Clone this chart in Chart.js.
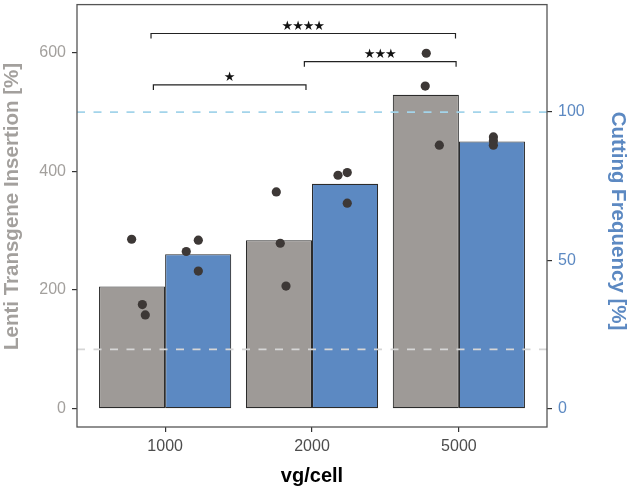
<!DOCTYPE html>
<html><head><meta charset="utf-8">
<script src="https://cdn.jsdelivr.net/npm/chart.js@4/dist/chart.umd.min.js"></script>
<style>html,body{margin:0;padding:0;background:#fff}</style>
</head><body>
<canvas id="c" width="630" height="492"></canvas>
<script>
// ---- data ----
const categories = ['1000', '2000', '5000'];
const categoryPos = [1, 2, 3];
const lentiMean = [206, 284, 529];          // Lenti Transgene Insertion [%]
const cuttingMean = [52.1, 75.8, 90.1];     // Cutting Frequency [%]
const lentiPointX = [0.772, 0.845, 0.865, 1.757, 1.784, 1.823, 2.771, 2.778, 2.867];
const lentiPointY = [285.6, 175.5, 158.2, 365.4, 278.9, 206.8, 543.7, 599, 444.2];
const cuttingPointX = [1.144, 1.226, 1.226, 2.177, 2.240, 2.240, 3.235, 3.235, 3.235];
const cuttingPointY = [53.0, 56.8, 46.4, 78.7, 79.6, 69.3, 91.6, 90.3, 88.8];
const lentiRef = 100;      // left axis reference
const cuttingRef = 100;    // right axis reference
const leftTicks = [0, 200, 400, 600];
const rightTicks = [0, 50, 100];
const sigLabels = ['****', '***', '*'];
const sigFrom = [0.904, 1.948, 0.920];
const sigTo = [2.977, 2.981, 1.959];
const sigY = [632.3, 584.9, 545.8];

// ---- style ----
const FONT = '"Liberation Sans", Arial, Helvetica, sans-serif';
const GREY = '#9e9a97';
const BLUE = '#5c89c2';
const GREY_TXT = '#a3a09d';
const DOT = '#3d3836';
const TIP = 8.5;
const X_MIN = 0.4, X_MAX = 3.6;

const pts = (xs, ys) => xs.map((x, i) => ({x, y: ys[i]}));
const bracket = i => [
  {x: sigFrom[i], y: sigY[i] - TIP}, {x: sigFrom[i], y: sigY[i]},
  {x: sigTo[i], y: sigY[i]}, {x: sigTo[i], y: sigY[i] - TIP}
];

const datasets = [
  {type: 'bar', label: 'Lenti', data: pts(categoryPos, lentiMean), yAxisID: 'y',
   backgroundColor: GREY, borderColor: '#2b2b2b', borderWidth: 1.1, borderSkipped: false,
   categoryPercentage: 0.9, barPercentage: 1.0, order: 5},
  {type: 'bar', label: 'Cutting', data: pts(categoryPos, cuttingMean), yAxisID: 'y2',
   backgroundColor: BLUE, borderColor: '#2b2b2b', borderWidth: 1.1, borderSkipped: false,
   categoryPercentage: 0.9, barPercentage: 1.0, order: 5},
  {type: 'line', data: [{x: X_MIN, y: lentiRef}, {x: X_MAX, y: lentiRef}], yAxisID: 'y',
   borderColor: '#d6d6d6', borderWidth: 1.8, borderDash: [8, 8.5], pointRadius: 0, order: 3},
  {type: 'line', data: [{x: X_MIN, y: cuttingRef}, {x: X_MAX, y: cuttingRef}], yAxisID: 'y2',
   borderColor: '#a3d4ea', borderWidth: 1.8, borderDash: [8, 8.5], pointRadius: 0, order: 3},
];
sigLabels.forEach((_, i) => datasets.push({
  type: 'line', data: bracket(i), yAxisID: 'y', borderColor: '#222', borderWidth: 1.2,
  pointRadius: 0, tension: 0, order: 2
}));
datasets.push(
  {type: 'scatter', data: pts(lentiPointX, lentiPointY), yAxisID: 'y',
   backgroundColor: DOT, borderWidth: 0, pointRadius: 4.6, order: 1},
  {type: 'scatter', data: pts(cuttingPointX, cuttingPointY), yAxisID: 'y2',
   backgroundColor: DOT, borderWidth: 0, pointRadius: 4.6, order: 1}
);

const tickGrid = {display: true, drawOnChartArea: false, drawTicks: true, tickLength: 5,
                  color: '#333', lineWidth: 1.2, offset: false};

const extras = {
  id: 'extras',
  afterDraw(chart) {
    const {ctx, chartArea: a, scales} = chart;
    ctx.save();
    // panel border
    ctx.strokeStyle = '#555';
    ctx.lineWidth = 1.3;
    ctx.strokeRect(a.left, a.top, a.right - a.left, a.bottom - a.top);
    // significance labels (one star glyph per character)
    ctx.fillStyle = '#111';
    ctx.font = '13px "DejaVu Sans", sans-serif';
    ctx.textAlign = 'center';
    ctx.textBaseline = 'alphabetic';
    const STEP = 10.6;
    sigLabels.forEach((t, i) => {
      const cx = scales.x.getPixelForValue((sigFrom[i] + sigTo[i]) / 2);
      const y = scales.y.getPixelForValue(sigY[i]) - 4;
      const n = t.length;
      for (let j = 0; j < n; j++) {
        ctx.fillText('\u2605', cx + (j - (n - 1) / 2) * STEP, y);
      }
    });
    // axis titles
    ctx.font = 'bold 20.5px ' + FONT;
    ctx.textAlign = 'left';
    ctx.textBaseline = 'middle';
    ctx.fillStyle = GREY_TXT;
    ctx.translate(12.6, 350);
    ctx.rotate(-Math.PI / 2);
    ctx.fillText('Lenti Transgene Insertion [%]', 0, 0);
    ctx.setTransform(1, 0, 0, 1, 0, 0);
    ctx.fillStyle = BLUE;
    ctx.translate(617.6, 111.7);
    ctx.rotate(Math.PI / 2);
    ctx.fillText('Cutting Frequency [%]', 0, 0);
    ctx.restore();
  }
};

new Chart(document.getElementById('c'), {
  type: 'bar',
  data: {datasets},
  plugins: [extras],
  options: {
    responsive: false, animation: false, devicePixelRatio: 1,
    layout: {padding: {top: 3, left: 0, right: 0, bottom: 0}},
    plugins: {legend: {display: false}, tooltip: {enabled: false}},
    scales: {
      x: {
        type: 'linear', position: 'bottom', min: X_MIN, max: X_MAX, offset: false,
        afterBuildTicks: s => { s.ticks = categoryPos.map(v => ({value: v})); },
        ticks: {callback: v => categories[Math.round(v) - 1], color: '#4d4d4d',
                font: {family: FONT, size: 16}, padding: 5, maxRotation: 0, autoSkip: false},
        grid: tickGrid, border: {display: false},
        title: {display: true, text: 'vg/cell', color: '#000',
                font: {family: FONT, size: 20, weight: 'bold'}, padding: {top: 0, bottom: 4}},
        afterFit: s => { s.height = 65; s.paddingLeft = 0; s.paddingRight = 0; }
      },
      y: {
        type: 'linear', position: 'left', min: -30.7, max: 681,
        afterBuildTicks: s => { s.ticks = leftTicks.map(v => ({value: v})); },
        ticks: {color: GREY_TXT, font: {family: FONT, size: 16}, padding: 6},
        grid: tickGrid, border: {display: false},
        afterFit: s => { s.width = 77; s.paddingTop = 0; s.paddingBottom = 0; }
      },
      y2: {
        type: 'linear', position: 'right', min: -30.7 / 5, max: 681 / 5,
        afterBuildTicks: s => { s.ticks = rightTicks.map(v => ({value: v})); },
        ticks: {color: BLUE, font: {family: FONT, size: 16}, padding: 6},
        grid: tickGrid, border: {display: false},
        afterFit: s => { s.width = 83; s.paddingTop = 0; s.paddingBottom = 0; }
      }
    }
  }
});
</script>
</body></html>
